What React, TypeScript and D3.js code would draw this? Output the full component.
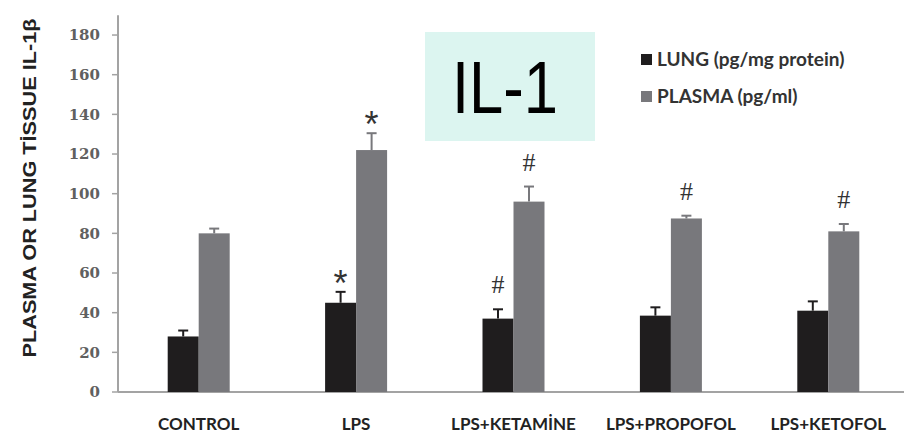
import React from "react";
import * as d3 from "d3";

// values
const categories = ["CONTROL", "LPS", "LPS+KETAMİNE", "LPS+PROPOFOL", "LPS+KETOFOL"];
const lungValues = [28, 45, 37, 38.5, 41];
const lungErrors = [3, 5.5, 4.7, 4.2, 4.7];
const plasmaValues = [80, 122, 96, 87.5, 81];
const plasmaErrors = [2.4, 8.5, 7.6, 1.4, 3.7];
const lungMarks = ["", "*", "#", "", ""];
const plasmaMarks = ["", "*", "#", "#", "#"];
const yTicks = [0, 20, 40, 60, 80, 100, 120, 140, 160, 180];
const seriesNames = ["LUNG (pg/mg protein)", "PLASMA (pg/ml)"];

const width = 904;
const height = 433;
const lungColor = "#1f1d1e";
const plasmaColor = "#78787c";
const axisColor = "#a3a3a3";

const App = () => {
  const x = d3.scaleBand<string>().domain(categories).range([120, 907]).padding(0);
  const inner = d3.scaleBand<string>().domain(["lung", "plasma"]).range([-31, 31]);
  const y = d3.scaleLinear().domain([0, 190]).range([392, 15.2]);

  const series = [
    { key: "lung", values: lungValues, errors: lungErrors, marks: lungMarks, color: lungColor },
    { key: "plasma", values: plasmaValues, errors: plasmaErrors, marks: plasmaMarks, color: plasmaColor },
  ];

  return (
    <svg
      width={width}
      height={height}
      style={{ position: "absolute", left: 0, top: 0, background: "#fff" }}
    >
      {/* title box */}
      <rect x={425} y={32} width={170} height={109} fill="#dcf5f0" />
      <text
        x={505}
        y={113}
        textAnchor="middle"
        fontFamily="Liberation Sans, Arial, sans-serif"
        fontSize={74}
        fill="#000"
        textLength={106}
        lengthAdjust="spacingAndGlyphs"
      >
        IL-1
      </text>

      {/* legend */}
      {seriesNames.map((name, i) => (
        <g key={name} transform={`translate(641,${54 + i * 37})`}>
          <rect width={11} height={11} fill={i === 0 ? lungColor : plasmaColor} />
          <text
            x={16}
            y={12}
            fontFamily="Lato, sans-serif"
            fontWeight={700}
            fontSize={19}
            fill="#333"
          >
            {name}
          </text>
        </g>
      ))}

      {/* y axis */}
      <line x1={118} x2={118} y1={y(190)} y2={y(0)} stroke={axisColor} strokeWidth={2} />
      {yTicks.map((t) => (
        <g key={t} transform={`translate(0,${y(t)})`}>
          <line x1={112} x2={118} stroke={axisColor} strokeWidth={1.5} />
          <text
            x={100}
            dy="0.36em"
            textAnchor="end"
            fontFamily="DejaVu Serif, serif"
            fontWeight={700}
            fontSize={15}
            fill="#606060"
          >
            {t}
          </text>
        </g>
      ))}
      <text
        transform={`translate(36,188) rotate(-90)`}
        textAnchor="middle"
        fontFamily="Liberation Sans, Arial, sans-serif"
        fontWeight={700}
        fontSize={19}
        fill="#222"
        textLength={339}
        lengthAdjust="spacingAndGlyphs"
      >
        PLASMA OR LUNG TİSSUE IL-1β
      </text>

      {/* x axis */}
      <line x1={118} x2={904} y1={y(0)} y2={y(0)} stroke={axisColor} strokeWidth={2} />
      {categories.map((c) => (
        <text
          key={c}
          x={(x(c) ?? 0) + x.bandwidth() / 2}
          y={430}
          textAnchor="middle"
          fontFamily="Lato, sans-serif"
          fontWeight={700}
          fontSize={17}
          fill="#222"
        >
          {c}
        </text>
      ))}

      {/* bars */}
      {series.map((s) =>
        categories.map((c, i) => {
          const cx = (x(c) ?? 0) + x.bandwidth() / 2;
          const bx = cx + (inner(s.key) ?? 0);
          const bw = inner.bandwidth();
          const top = y(s.values[i]);
          const cap = y(s.values[i] + s.errors[i]);
          const mid = bx + bw / 2;
          const mark = s.marks[i];
          return (
            <g key={s.key + c}>
              <line x1={mid} x2={mid} y1={top} y2={cap} stroke={s.color} strokeWidth={2} />
              <line x1={mid - 5} x2={mid + 5} y1={cap} y2={cap} stroke={s.color} strokeWidth={2} />
              <rect x={bx} y={top} width={bw} height={y(0) - top} fill={s.color} />
              {mark === "#" && (
                <text
                  x={mid}
                  y={cap - 16}
                  textAnchor="middle"
                  fontFamily="Liberation Serif, serif"
                  fontSize={26}
                  fill="#333"
                >
                  #
                </text>
              )}
              {mark === "*" && (
                <text
                  x={mid}
                  y={cap + 4}
                  textAnchor="middle"
                  fontFamily="Liberation Sans, Arial, sans-serif"
                  fontSize={36}
                  fill="#333"
                >
                  *
                </text>
              )}
            </g>
          );
        })
      )}
    </svg>
  );
};

export default App;
